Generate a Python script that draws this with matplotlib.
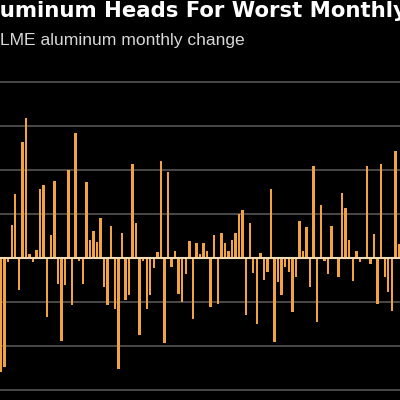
import numpy as np
import matplotlib
matplotlib.use("Agg")
import matplotlib.pyplot as plt

# LME aluminum monthly change (%), oldest first
changes = [
    -12.95, -12.4, -0.45, 3.7, 7.3, -3.6, 13.2, 15.9, 0.5, -0.45,
    0.95, 7.8, 8.3, -6.7, 2.65, 8.8, -2.9, -9.4, -3.1, 10.0,
    -5.3, 14.2, -0.3, -2.9, 8.6, 2.0, 3.1, 1.8, 4.5, -3.3,
    -5.3, 3.6, -5.8, -12.6, 2.8, -4.8, -4.2, 10.7, 4.0, -8.7,
    -0.3, -5.8, -4.2, -1.1, 0.7, 11.0, -9.7, 9.8, -1.0, 0.8,
    -4.1, -5.0, -1.8, 1.9, -6.9, 1.75, 0.45, 1.75, 0.75, -5.6,
    2.6, -5.2, 2.8, 1.75, 0.8, 2.0, 2.8, 5.0, 5.4, -6.5,
    4.0, -1.7, -7.5, 0.6, -2.5, -1.6, 7.8, -9.5, -2.7, -4.2,
    -1.0, -1.6, -6.1, -2.2, 4.2, 0.75, 3.5, -3.3, 10.4, -7.3,
    6.0, -0.3, -1.8, 3.6, 0.1, -2.2, 7.4, 5.7, 2.0, -2.6,
    0.8, -0.4, 0.1, 10.4, -0.65, 2.75, -5.2, 10.7, -2.2, -3.9,
    -6.0, 12.2, 1.6,
]
grid_levels = [-15, -10, -5, 5, 10, 15, 20]

title = "Aluminum Heads For Worst Monthly Drop"
subtitle = "LME aluminum monthly change"

bg = "#000000"
bar_color = "#f0a340"

fig = plt.figure(figsize=(4, 4), dpi=100, facecolor=bg)
ax = fig.add_axes([0, 0, 1, 1 - 75 / 400])
ax.set_facecolor(bg)

x = np.arange(len(changes))
for g in grid_levels:
    ax.axhline(g, color="#555555", lw=1.2, zorder=0)
ax.bar(x, changes, width=0.68, color=bar_color, linewidth=0, zorder=2)
ax.axhline(0, color="#f2dcb4", lw=1.5, zorder=3)

ax.set_xlim(-0.3, len(changes) - 1 + 0.3)
ax.set_ylim(-142 / 8.8, 183 / 8.8)
ax.axis("off")

# the reference is cropped, so the title runs off both edges
fig.text(-0.061, 1 - 17 / 400, title, color="white", fontsize=15.3,
         fontweight="bold", family="DejaVu Sans", va="baseline", ha="left")
fig.text(0.0, 1 - 45 / 400, subtitle, color="#d8d8d8", fontsize=12.6,
         family="Liberation Sans", va="baseline", ha="left")

fig.savefig("out.png", dpi=100, facecolor=bg)
